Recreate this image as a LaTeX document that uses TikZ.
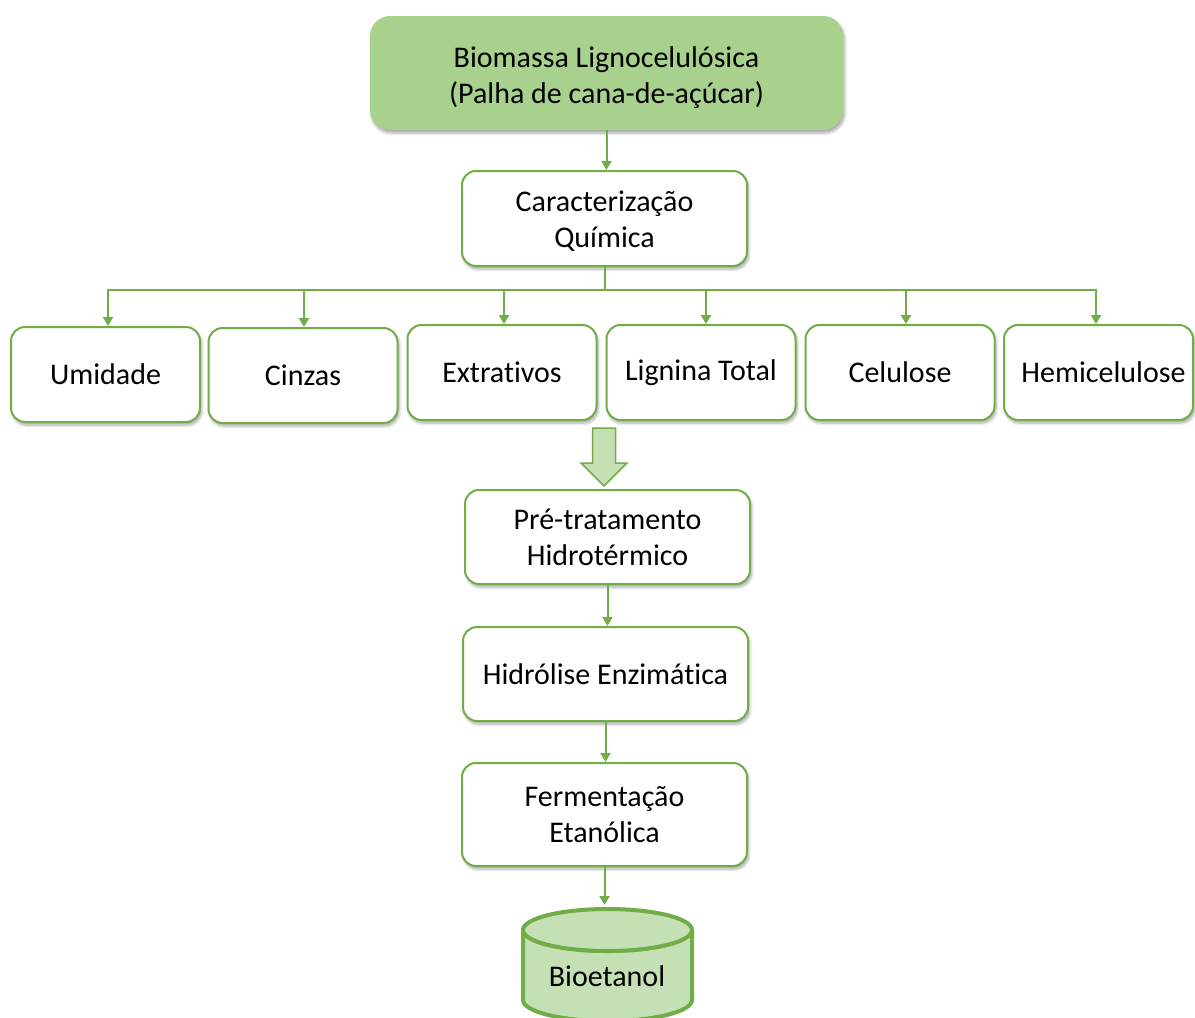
\documentclass[tikz,border=0pt]{standalone}
\usepackage{fontspec}
\setmainfont{Carlito}[Ligatures=NoCommon]
\usetikzlibrary{arrows.meta,shadows.blur}
\definecolor{gborder}{HTML}{70AD47}
\definecolor{gtop}{HTML}{A9D18E}
\definecolor{glight}{HTML}{C5E0B4}

\begin{document}
\begin{tikzpicture}[x=1pt,y=-1pt,
  font=\fontsize{30}{36}\selectfont,
  softshadow/.style={blur shadow={shadow xshift=1.5pt, shadow yshift=-3pt,
      shadow blur radius=3pt, shadow blur steps=6, shadow opacity=35}},
  box/.style={draw=gborder, line width=2pt, fill=white, rounded corners=14pt,
      align=center, inner sep=0pt, softshadow},
  rowbox/.style={box, minimum width=189pt, minimum height=95pt},
  stagebox/.style={box, minimum width=285pt},
  topbox/.style={fill=gtop, rounded corners=20pt, align=center, inner sep=0pt,
      minimum width=473pt, minimum height=114pt, softshadow},
  link/.style={draw=gborder, line width=2pt, -{Triangle[width=10pt,length=9pt]}},
  bigarrow/.style={draw=gborder, fill=glight, line width=1.5pt, line join=miter},
  cyl/.style={draw=gborder, line width=4pt, line join=round, line cap=round},
]
\useasboundingbox (0,0) rectangle (1195,1018);

% source material
\node[topbox, label={[align=center, yshift=-5pt]center:Biomassa Lignocelulósica\\(Palha de cana-de-açúcar)}]
  (biomassa) at (606.5,73) {};

% chemical characterisation and its components
\node[stagebox, minimum height=95pt, label={[align=center, yshift=-3pt]center:Caracterização\\Química}]
  (carac) at (604.5,218.5) {};

\node[rowbox] (umid)  at (105.5,374.5) {Umidade};
\node[rowbox] (cinz)  at (303,375.5)   {Cinzas};
\node[rowbox] (extr)  at (502,372.5)   {Extrativos};
\node[rowbox] (lign)  at (701,372.5)   {Lignina Total};
\node[rowbox] (celu)  at (900,372.5)   {Celulose};
\node[rowbox, label={[xshift=5pt]center:Hemicelulose}] (hemi) at (1098.5,372.5) {};

\draw[link] (biomassa.south) -- (biomassa.south |- carac.north);

\draw[link] (carac.south) -- ++(0,23) -| ([xshift=2.5pt]umid.north);
\draw[link] (carac.south) -- ++(0,23) -| ([xshift=1pt]cinz.north);
\draw[link] (carac.south) -- ++(0,23) -| ([xshift=2pt]extr.north);
\draw[link] (carac.south) -- ++(0,23) -| ([xshift=5pt]lign.north);
\draw[link] (carac.south) -- ++(0,23) -| ([xshift=6pt]celu.north);
\draw[link] (carac.south) -- ++(0,23) -| ([xshift=-2.5pt]hemi.north);

% block arrow towards the process chain
\draw[bigarrow] (592.5,428) -- (615.5,428) -- (615.5,463) -- (627,463)
  -- (604,486) -- (581,463) -- (592.5,463) -- cycle;

% process chain
\node[stagebox, minimum height=94pt]  (pretrat) at (607.5,537)   {Pré-tratamento\\Hidrotérmico};
\node[stagebox, minimum height=94pt]  (hidrol)  at (605.5,674)   {Hidrólise Enzimática};
\node[stagebox, minimum height=103pt] (ferm)    at (604.5,814.5) {Fermentação\\Etanólica};

\draw[link] (pretrat.south) -- (pretrat.south |- hidrol.north);
\draw[link] (hidrol.south)  -- (hidrol.south |- ferm.north);

% product tank
\coordinate (tanktop) at (606,905);
\draw[cyl, fill=glight] (523,930) -- (523,1000)
  arc[start angle=180, end angle=0, x radius=84.5, y radius=21]
  -- (692,930)
  arc[start angle=0, end angle=180, x radius=84.5, y radius=21];
\draw[cyl, fill=glight] (607.5,930) ellipse[x radius=84.5, y radius=21];
\node (bioet) at (607,976) {Bioetanol};

\draw[link] (ferm.south) -- (ferm.south |- tanktop);
\end{tikzpicture}
\end{document}
